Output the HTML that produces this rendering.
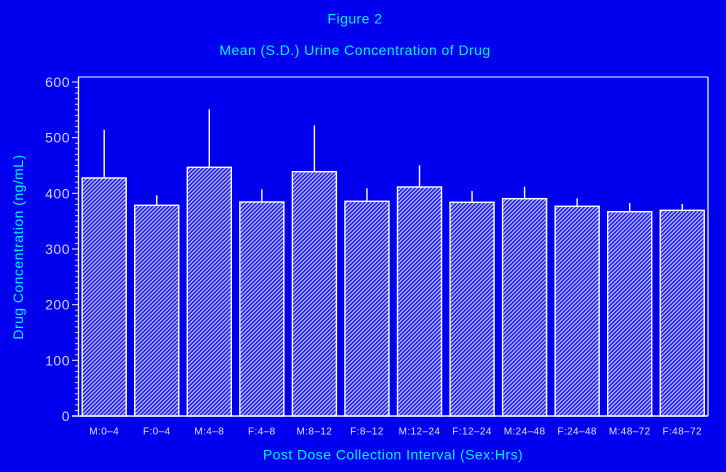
<!DOCTYPE html>
<html>
<head>
<meta charset="utf-8">
<style>
  html, body { margin:0; padding:0; background:#0000ee; }
  body { width:726px; height:472px; overflow:hidden; }
  svg { display:block; }
  .ttl { font-family:"Liberation Sans", sans-serif; font-size:14px; fill:#00f0ff; letter-spacing:0.45px; }
  .yt { font-family:"Liberation Sans", sans-serif; font-size:14px; fill:#d0d0ff; letter-spacing:0.5px; }
  .xt { font-family:"Liberation Sans", sans-serif; font-size:10px; fill:#e0e0ff; letter-spacing:0.4px; }
</style>
</head>
<body>
<svg width="726" height="472" viewBox="0 0 726 472" xmlns="http://www.w3.org/2000/svg">
  <defs>
    <pattern id="hatch" patternUnits="userSpaceOnUse" width="2.83" height="10" patternTransform="rotate(45)">
      <rect x="0" y="0" width="2.83" height="10" fill="#1a1af0"/>
      <line x1="0.7" y1="0" x2="0.7" y2="10" stroke="#c8c8ff" stroke-width="1.2"/>
    </pattern>
  </defs>
  <rect x="0" y="0" width="726" height="472" fill="#0000ee"/>

  <!-- titles -->
  <text class="ttl" x="355" y="23.5" text-anchor="middle">Figure 2</text>
  <text class="ttl" x="355" y="55" text-anchor="middle">Mean (S.D.) Urine Concentration of Drug</text>

  <!-- frame -->
  <line x1="78" y1="77" x2="708" y2="77" stroke="#c8c8ff" stroke-width="1.2"/>
  <line x1="708" y1="77" x2="708" y2="416" stroke="#ffffff" stroke-width="1.2"/>
  <line x1="78.5" y1="77" x2="78.5" y2="416" stroke="#ffffff" stroke-width="1.3"/>
  <line x1="72" y1="416" x2="708" y2="416" stroke="#ffffff" stroke-width="1.3"/>

  <!-- y ticks -->
  <g stroke="#e0e0ff" stroke-width="1.1">
    <line x1="72" y1="82" x2="78" y2="82"/>
    <line x1="72" y1="137.67" x2="78" y2="137.67"/>
    <line x1="72" y1="193.33" x2="78" y2="193.33"/>
    <line x1="72" y1="249" x2="78" y2="249"/>
    <line x1="72" y1="304.67" x2="78" y2="304.67"/>
    <line x1="72" y1="360.33" x2="78" y2="360.33"/>
  </g>
  <g stroke="#d0d0ff" stroke-width="1">
    <line x1="75" y1="87.57" x2="78" y2="87.57"/><line x1="75" y1="93.13" x2="78" y2="93.13"/><line x1="75" y1="98.7" x2="78" y2="98.7"/><line x1="75" y1="104.27" x2="78" y2="104.27"/><line x1="75" y1="109.83" x2="78" y2="109.83"/><line x1="75" y1="115.4" x2="78" y2="115.4"/><line x1="75" y1="120.97" x2="78" y2="120.97"/><line x1="75" y1="126.53" x2="78" y2="126.53"/><line x1="75" y1="132.1" x2="78" y2="132.1"/>
    <line x1="75" y1="143.23" x2="78" y2="143.23"/><line x1="75" y1="148.8" x2="78" y2="148.8"/><line x1="75" y1="154.37" x2="78" y2="154.37"/><line x1="75" y1="159.93" x2="78" y2="159.93"/><line x1="75" y1="165.5" x2="78" y2="165.5"/><line x1="75" y1="171.07" x2="78" y2="171.07"/><line x1="75" y1="176.63" x2="78" y2="176.63"/><line x1="75" y1="182.2" x2="78" y2="182.2"/><line x1="75" y1="187.77" x2="78" y2="187.77"/>
    <line x1="75" y1="198.9" x2="78" y2="198.9"/><line x1="75" y1="204.47" x2="78" y2="204.47"/><line x1="75" y1="210.03" x2="78" y2="210.03"/><line x1="75" y1="215.6" x2="78" y2="215.6"/><line x1="75" y1="221.17" x2="78" y2="221.17"/><line x1="75" y1="226.73" x2="78" y2="226.73"/><line x1="75" y1="232.3" x2="78" y2="232.3"/><line x1="75" y1="237.87" x2="78" y2="237.87"/><line x1="75" y1="243.43" x2="78" y2="243.43"/>
    <line x1="75" y1="254.57" x2="78" y2="254.57"/><line x1="75" y1="260.13" x2="78" y2="260.13"/><line x1="75" y1="265.7" x2="78" y2="265.7"/><line x1="75" y1="271.27" x2="78" y2="271.27"/><line x1="75" y1="276.83" x2="78" y2="276.83"/><line x1="75" y1="282.4" x2="78" y2="282.4"/><line x1="75" y1="287.97" x2="78" y2="287.97"/><line x1="75" y1="293.53" x2="78" y2="293.53"/><line x1="75" y1="299.1" x2="78" y2="299.1"/>
    <line x1="75" y1="310.23" x2="78" y2="310.23"/><line x1="75" y1="315.8" x2="78" y2="315.8"/><line x1="75" y1="321.37" x2="78" y2="321.37"/><line x1="75" y1="326.93" x2="78" y2="326.93"/><line x1="75" y1="332.5" x2="78" y2="332.5"/><line x1="75" y1="338.07" x2="78" y2="338.07"/><line x1="75" y1="343.63" x2="78" y2="343.63"/><line x1="75" y1="349.2" x2="78" y2="349.2"/><line x1="75" y1="354.77" x2="78" y2="354.77"/>
    <line x1="75" y1="365.9" x2="78" y2="365.9"/><line x1="75" y1="371.47" x2="78" y2="371.47"/><line x1="75" y1="377.03" x2="78" y2="377.03"/><line x1="75" y1="382.6" x2="78" y2="382.6"/><line x1="75" y1="388.17" x2="78" y2="388.17"/><line x1="75" y1="393.73" x2="78" y2="393.73"/><line x1="75" y1="399.3" x2="78" y2="399.3"/><line x1="75" y1="404.87" x2="78" y2="404.87"/><line x1="75" y1="410.43" x2="78" y2="410.43"/>
  </g>

  <!-- y tick labels -->
  <g class="yt" text-anchor="end">
    <text x="70" y="87">600</text>
    <text x="70" y="142.7">500</text>
    <text x="70" y="198.3">400</text>
    <text x="70" y="254">300</text>
    <text x="70" y="309.7">200</text>
    <text x="70" y="365.3">100</text>
    <text x="70" y="421">0</text>
  </g>

  <!-- y axis title -->
  <text class="ttl" transform="translate(23,247) rotate(-90)" text-anchor="middle">Drug Concentration (ng/mL)</text>

  <!-- error bars -->
  <g stroke="#ffffff" stroke-width="1.4">
    <line x1="104.2" y1="129.7" x2="104.2" y2="178"/>
    <line x1="156.75" y1="195.3" x2="156.75" y2="205.3"/>
    <line x1="209.3" y1="109.3" x2="209.3" y2="167.3"/>
    <line x1="261.85" y1="189.3" x2="261.85" y2="202"/>
    <line x1="314.4" y1="125.3" x2="314.4" y2="171.7"/>
    <line x1="366.95" y1="188.3" x2="366.95" y2="201.3"/>
    <line x1="419.5" y1="165.3" x2="419.5" y2="187"/>
    <line x1="472.05" y1="191" x2="472.05" y2="202.3"/>
    <line x1="524.6" y1="186.7" x2="524.6" y2="198.7"/>
    <line x1="577.15" y1="198.3" x2="577.15" y2="206.3"/>
    <line x1="629.7" y1="203" x2="629.7" y2="211.7"/>
    <line x1="682.25" y1="204" x2="682.25" y2="210.3"/>
  </g>

  <!-- bars -->
  <g fill="url(#hatch)" stroke="#ffffff" stroke-width="1.4">
    <rect x="82.2" y="178" width="44" height="238"/>
    <rect x="134.75" y="205.3" width="44" height="210.7"/>
    <rect x="187.3" y="167.3" width="44" height="248.7"/>
    <rect x="239.85" y="202" width="44" height="214"/>
    <rect x="292.4" y="171.7" width="44" height="244.3"/>
    <rect x="344.95" y="201.3" width="44" height="214.7"/>
    <rect x="397.5" y="187" width="44" height="229"/>
    <rect x="450.05" y="202.3" width="44" height="213.7"/>
    <rect x="502.6" y="198.7" width="44" height="217.3"/>
    <rect x="555.15" y="206.3" width="44" height="209.7"/>
    <rect x="607.7" y="211.7" width="44" height="204.3"/>
    <rect x="660.25" y="210.3" width="44" height="205.7"/>
  </g>
  <line x1="72" y1="416" x2="708" y2="416" stroke="#ffffff" stroke-width="1.3"/>

  <!-- x tick labels -->
  <g class="xt" text-anchor="middle">
    <text x="104.2" y="434.5">M:0–4</text>
    <text x="156.75" y="434.5">F:0–4</text>
    <text x="209.3" y="434.5">M:4–8</text>
    <text x="261.85" y="434.5">F:4–8</text>
    <text x="314.4" y="434.5">M:8–12</text>
    <text x="366.95" y="434.5">F:8–12</text>
    <text x="419.5" y="434.5">M:12–24</text>
    <text x="472.05" y="434.5">F:12–24</text>
    <text x="524.6" y="434.5">M:24–48</text>
    <text x="577.15" y="434.5">F:24–48</text>
    <text x="629.7" y="434.5">M:48–72</text>
    <text x="682.25" y="434.5">F:48–72</text>
  </g>

  <!-- x axis title -->
  <text class="ttl" x="393" y="459.5" text-anchor="middle">Post Dose Collection Interval (Sex:Hrs)</text>
</svg>
</body>
</html>
